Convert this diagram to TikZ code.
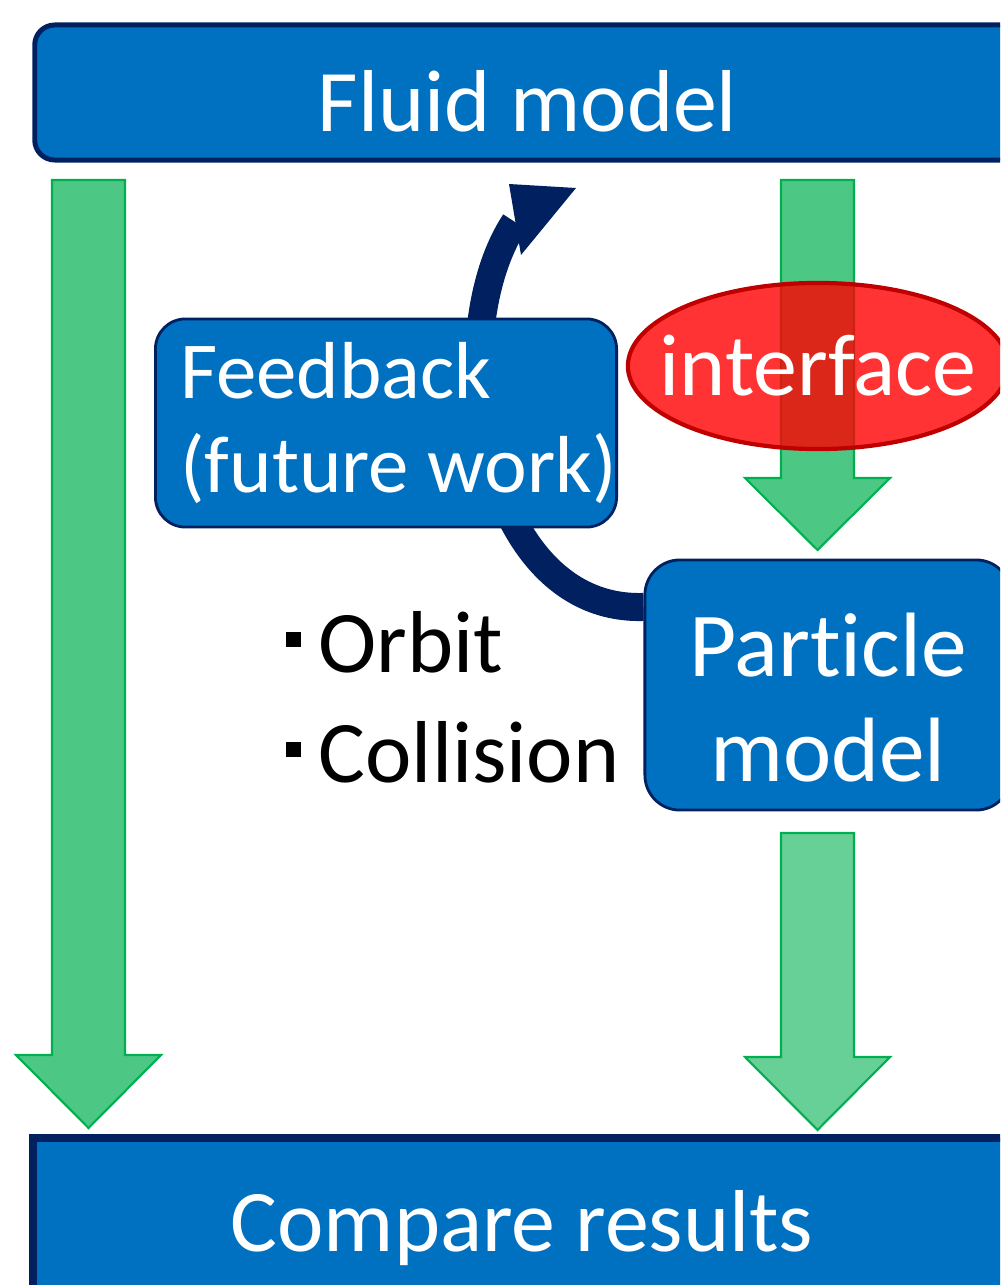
\documentclass[tikz,border=0pt]{standalone}
\usepackage{fontspec}
\setmainfont{Carlito}[Ligatures=NoCommon]
\usetikzlibrary{shapes.geometric,positioning}

\definecolor{boxblue}{HTML}{0070C0}
\definecolor{navyline}{HTML}{002060}
\definecolor{flowgreen}{HTML}{00B050}
\definecolor{ifborder}{HTML}{C00000}

% block arrow: centre x, top, neck, tip, fill opacity
\newcommand{\flowarrow}[5]{%
  \draw[flow, fill opacity=#5]
    (#1-36.5,#2) -- (#1+36.5,#2) -- (#1+36.5,#3) -- (#1+72.5,#3)
    -- (#1,#4) -- (#1-72.5,#3) -- (#1-36.5,#3) -- cycle;}

\begin{document}
\begin{tikzpicture}[x=0.01cm,y=-0.01cm]
  \tikzset{
    model/.style = {draw=navyline, fill=boxblue, text=white, line width=1.4pt, inner sep=0pt},
    flow/.style = {draw=flowgreen, fill=flowgreen, line width=0.6pt},
    bigfont/.style = {font=\fontsize{25pt}{30pt}\selectfont},
    item/.style = {anchor=base west, inner sep=0pt, bigfont}
  }
  \clip (0,0) rectangle (1000,1285);

  % green flow arrows
  \flowarrow{88.5}{180}{1055}{1128}{0.7}
  \flowarrow{817.5}{180}{478}{550}{0.7}
  \flowarrow{817.5}{833}{1057}{1130}{0.6}

  % interface ellipse
  \node[ellipse, draw=ifborder, line width=1.2pt, fill=red, fill opacity=0.8, text opacity=1,
        text=white, minimum width=3.8cm, minimum height=1.66cm, inner sep=0pt, bigfont]
        (interface) at (818,366) {\makebox[0pt]{interface}};

  % boxes
  \node[model, rounded corners=0.2cm, minimum width=9.85cm, minimum height=1.35cm, bigfont]
        (fluid) at (527.5,92.5) {\rule{0pt}{0.78cm}Fluid model};
  \node[model, rounded corners=0.35cm, line width=0.8pt, minimum width=3.66cm, minimum height=2.5cm,
        align=center, font=\fontsize{26pt}{30pt}\selectfont]
        (particle) at (828,685) {\rule{0pt}{0.89cm}Part\kern0pt icle\\model};

  % feedback loop
  \coordinate (headbase) at (515,222);
  \draw[navyline, line width=0.28cm] ([yshift=0.78cm]particle.west)
        .. controls (480,612) and (440,335) .. (headbase);
  \fill[navyline] (509,184) -- (576,188) -- (521,255) -- cycle;

  \node[model, rounded corners=0.3cm, line width=0.8pt, minimum width=4.58cm, minimum height=2.08cm,
        align=left, font=\fontsize{23pt}{27pt}\selectfont]
        (feedback) at (386,423) {\hspace*{0.25cm}Feedback\\\hspace*{0.25cm}(future work)};

  \node[model, line width=2.3pt, minimum width=9.78cm, minimum height=1.8cm, bigfont]
        (compare) at (522,1228) {Compare results};

  % bullet list
  \node[item] (orbit) at (285,672) {\rule[0.25cm]{0.15cm}{0.15cm}\hspace{0.18cm}Orbit};
  \node[item] (collision) at (285,782) {\rule[0.25cm]{0.15cm}{0.15cm}\hspace{0.18cm}Collision};
\end{tikzpicture}
\end{document}
